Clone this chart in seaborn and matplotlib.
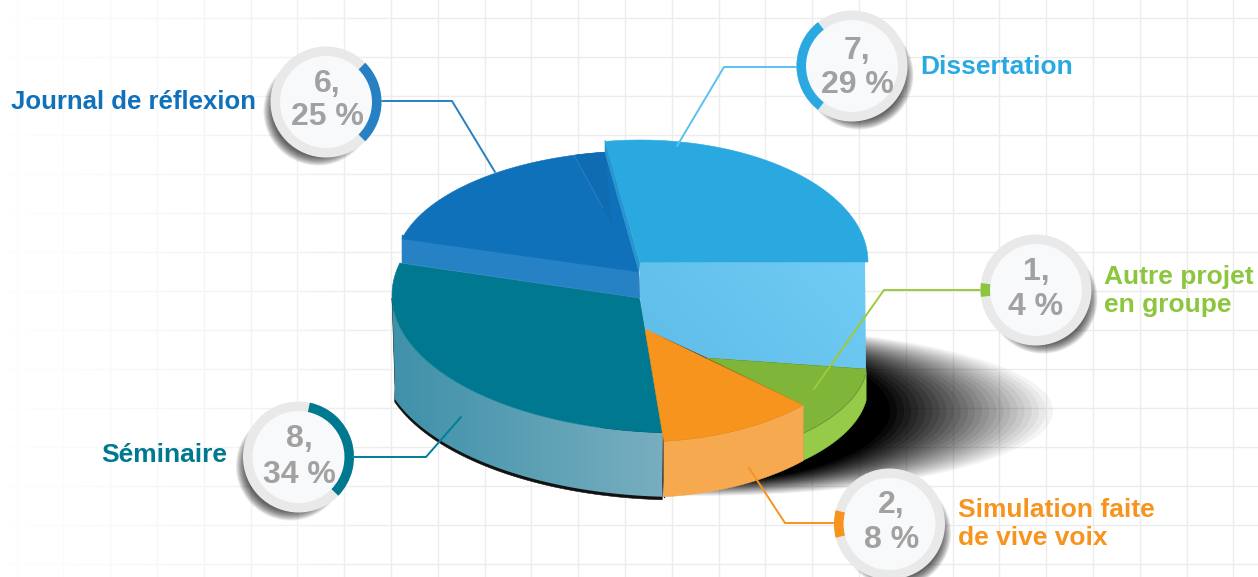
import numpy as np
import matplotlib
matplotlib.use("Agg")
import matplotlib.pyplot as plt
from matplotlib.colors import to_rgb
from matplotlib.patches import Circle, Ellipse, Polygon, Rectangle, Wedge
import seaborn as sns

# Survey results
categories = ["Dissertation", "Autre projet\nen groupe", "Simulation faite\nde vive voix",
              "Séminaire", "Journal de réflexion"]
counts = [7, 1, 2, 8, 6]
percents = [29, 4, 8, 34, 25]

# Colours per slice
top_colors = ["#2aa9e1", "#7fb539", "#f7941e", "#007990", "#1071bb"]
side_colors = ["#5fbce8", "#96cb49", "#f6a94f", "#5a9fb4", "#2682c4"]
label_colors = ["#2aa9e1", "#8cc63f", "#f7941e", "#007990", "#1071bb"]
leader_colors = ["#5bc1ee", "#9ccb3b", "#f7941e", "#007f95", "#2680c2"]
ring_colors = ["#2aa9e1", "#8cc63f", "#f7941e", "#007990", "#2680c2"]

sns.set_theme(style="whitegrid", rc={
    "grid.color": "#ececec", "grid.linewidth": 1.0, "axes.axisbelow": True,
})
plt.rcParams["font.family"] = ["Liberation Sans", "DejaVu Sans"]

fig = plt.figure(figsize=(12.58, 5.77), dpi=100, facecolor="white")
ax = fig.add_axes([0, 0, 1, 1])
W, H = 1258, 577
ax.set_xticks(391 + 46.8 * np.arange(-9, 19))
ax.set_yticks(18 + 39.0 * np.arange(0, 15))
ax.tick_params(labelbottom=False, labelleft=False, length=0)
sns.despine(ax=ax, left=True, bottom=True)


def reset_limits():
    ax.set_xlim(0, W)
    ax.set_ylim(H, 0)
    ax.set_aspect("auto")


def arc(ellipse, a0, a1, n=80, dy=0):
    cx, cy, rx, ry = ellipse
    t = np.radians(np.linspace(a0, a1, n))
    return np.column_stack([cx + rx * np.cos(t), cy - ry * np.sin(t) + dy])


def fill(points, color, z):
    ax.add_patch(Polygon(points, closed=True, facecolor=color, edgecolor=color,
                         linewidth=0.4, zorder=z))


def gradient_fill(points, c0, c1, z, tilt=0.0):
    """Fill a polygon with a left-to-right colour ramp, optionally tilted upwards."""
    pts = np.asarray(points)
    x0, x1 = pts[:, 0].min(), pts[:, 0].max()
    y0, y1 = pts[:, 1].min(), pts[:, 1].max()
    xx, yy = np.meshgrid(np.linspace(0, 1, 200), np.linspace(0, 1, 100))
    ramp = np.clip((xx + tilt * (1 - yy)) / (1 + tilt), 0, 1)[..., None]
    rgb = np.array(to_rgb(c0)) * (1 - ramp) + np.array(to_rgb(c1)) * ramp
    im = ax.imshow(rgb, extent=(x0, x1, y1, y0), origin="upper", zorder=z, aspect="auto")
    clip = Polygon(pts, closed=True, transform=ax.transData, facecolor="none", edgecolor="none")
    ax.add_patch(clip)
    im.set_clip_path(clip)


# Grid fades out towards the left edge
fade = np.ones((2, 400, 4))
fade[..., 3] = np.linspace(0.97, 0.0, 400)
ax.imshow(fade, extent=(0, 420, H, 0), zorder=1.2, aspect="auto")

# Soft cast shadow to the right of the disc, built from stepped ellipses
steps = 24
shadow_clip = Rectangle((600, 0), W, H, transform=ax.transData)
for k in range(steps):
    f = k / (steps - 1)
    band = Ellipse((700, 411), 2 * (353 - 163 * f), 2 * (85 - 14 * f),
                   facecolor="black", edgecolor="none",
                   alpha=1.0 / (steps - k), zorder=1.5)
    ax.add_patch(band)
    band.set_clip_path(shadow_clip)

# Slice outlines follow the tilted disc: pie angles go through a foreshortening map
pie_knots = [0, 105, 120, 150, 270, 360]
disc_knots = [98.8, 0.0, -44.3, -84.0, -166.5, -261.8]
pie_edges = np.concatenate([[0], np.cumsum(counts)]) / np.sum(counts) * 360
edges = np.interp(pie_edges, pie_knots, disc_knots)

E_DISS = (640, 262, 228, 122)
E_GREEN = (640, 360, 228, 105)
E_ORANGE = (640, 320, 228, 122)
E_SEM = (680, 295, 288, 138)
E_SEM_LOW = (680, 355, 300, 142)
E_JOUR = (640, 266, 245, 115)

# Séminaire: drop shadow, side band, top
sem_top_arc = arc(E_SEM, edges[4] - 26.9, edges[3] - 9.4)
sem_side = np.vstack([arc(E_SEM, -180, edges[3] - 9.4),
                      arc(E_SEM_LOW, edges[3] - 9.4, -162),
                      [[395, 385], [392, 295]]])
fill(sem_side + [0, 3], "#111111", 2.0)
gradient_fill(sem_side, "#3f91aa", "#78aebf", 2.1)
fill(np.vstack([[[639, 298]], sem_top_arc, [[645, 329], [640, 300]]]), top_colors[3], 2.2)
ax.plot([663.5, 663.5], [433, 497], color="#1a1a1a", lw=1.0, zorder=2.25)

# Journal de réflexion: radial face and top, with a darker fold at the back
fill([(402, 235), (639, 272), (640, 298), (402, 263)], side_colors[4], 2.3)
jour_arc = arc(E_JOUR, edges[4] - 27.2, edges[5])
fill(np.vstack([[[639, 272]], jour_arc]), top_colors[4], 2.4)
fold_arc = arc(E_JOUR, 105.4, edges[5] + 360, n=20)
fill(np.vstack([[[612, 225]], fold_arc]), "#0f6cb3", 2.45)
ax.plot([574, 603], [155, 208], color="#3e8cc8", lw=0.4, zorder=2.46)

# Dissertation: cut face with a light ramp
cut_face = [(640, 262), (865, 262), (866, 369), (707, 358), (645, 329), (640, 298)]
gradient_fill(cut_face, side_colors[0], "#70ccf4", 2.5, tilt=0.4)

# Autre projet en groupe
green_arc = arc(E_GREEN, edges[1] - 7.3, edges[2])
fill(np.vstack([green_arc, green_arc[::-1] + [0, 27]]), side_colors[1], 2.6)
fill(np.vstack([[[707, 358], [866, 369]], green_arc, [[803, 405]]]), top_colors[1], 2.7)
ax.plot(green_arc[:, 0], green_arc[:, 1], color="#6d8f3a", lw=0.5, zorder=2.72)

# Simulation faite de vive voix
orange_arc = arc(E_ORANGE, edges[2], edges[3])
fill(np.vstack([orange_arc, orange_arc[::-1] + [0, 55.5]]), side_colors[2], 2.8)
fill(np.vstack([[[645, 329]], orange_arc]), top_colors[2], 2.9)

# Dissertation top sits above its neighbours
fill([(605, 140), (640, 263), (639, 272), (605, 152)], "#2795cf", 3.0)
fill(np.vstack([[[640, 262]], arc(E_DISS, edges[0], edges[1])]), top_colors[0], 3.1)

# Leader lines in slice order
leaders = [
    [(797, 67), (724, 67), (677, 146)],
    [(982, 290), (884, 290), (814, 389)],
    [(834, 523), (785, 523), (749, 468)],
    [(354, 457), (426, 457), (461, 417)],
    [(381, 101), (452, 101), (495, 172)],
]
for path, color in zip(leaders, leader_colors):
    xs, ys = zip(*path)
    ax.plot(xs, ys, color=color, lw=1.4, zorder=4, solid_joinstyle="miter")

# Value badges: ring length follows the percentage
badge_centers = [(852, 66), (1036, 290), (889.5, 524), (298.5, 457), (326, 102)]
shadow_dirs = [(7, 9), (7, 9), (7, 9), (-8, 9), (-8, 9)]
ring_mid_angles = [180, 180, 180, 17, 0]
text_x_offsets = [5, 0, 2, 1, 1]
first_baselines = [-7, -10, -11, -10, -10]
second_baselines = [27, 25, 24, 26, 23]
RADIUS, INNER = 55.5, 46.0

for i, (cx, cy) in enumerate(badge_centers):
    sx, sy = shadow_dirs[i]
    for r in np.linspace(RADIUS - 1, RADIUS - 10, 10):
        ax.add_patch(Circle((cx + sx, cy + sy), r, facecolor="black",
                            edgecolor="none", alpha=0.085, zorder=5))
    ax.add_patch(Circle((cx, cy), RADIUS, facecolor="#e9e9e9", edgecolor="none", zorder=5.1))
    ax.add_patch(Circle((cx, cy), INNER, facecolor="#f8f9fb", edgecolor="none", zorder=5.2))
    span = percents[i] * 3.6
    mid = ring_mid_angles[i]
    # y axis points down, so screen angles are negated for Wedge
    ax.add_patch(Wedge((cx, cy), RADIUS, -mid - span / 2, -mid + span / 2, width=RADIUS - INNER,
                       facecolor=ring_colors[i], edgecolor="none", zorder=5.3))
    tx = cx + text_x_offsets[i]
    ax.text(tx, cy + first_baselines[i], f"{counts[i]},", color="#a1a1a1", fontsize=23,
            fontweight="bold", ha="center", va="baseline", zorder=6)
    ax.text(tx, cy + second_baselines[i], f"{percents[i]} %", color="#a1a1a1", fontsize=23,
            fontweight="bold", ha="center", va="baseline", zorder=6)

# Category labels
label_anchors = [(920, 74, "left"), (1104, 284, "left"), (958, 517, "left"),
                 (227, 462, "right"), (256, 109, "right")]
label_sizes = [19, 19, 19, 19, 18.5]
for name, (lx, ly, ha), color, size in zip(categories, label_anchors, label_colors, label_sizes):
    for j, line in enumerate(name.split("\n")):
        ax.text(lx, ly + j * 28, line, color=color, fontsize=size, fontweight="bold",
                ha=ha, va="baseline", zorder=6)

reset_limits()
fig.savefig("out.png", dpi=100, facecolor="white")
